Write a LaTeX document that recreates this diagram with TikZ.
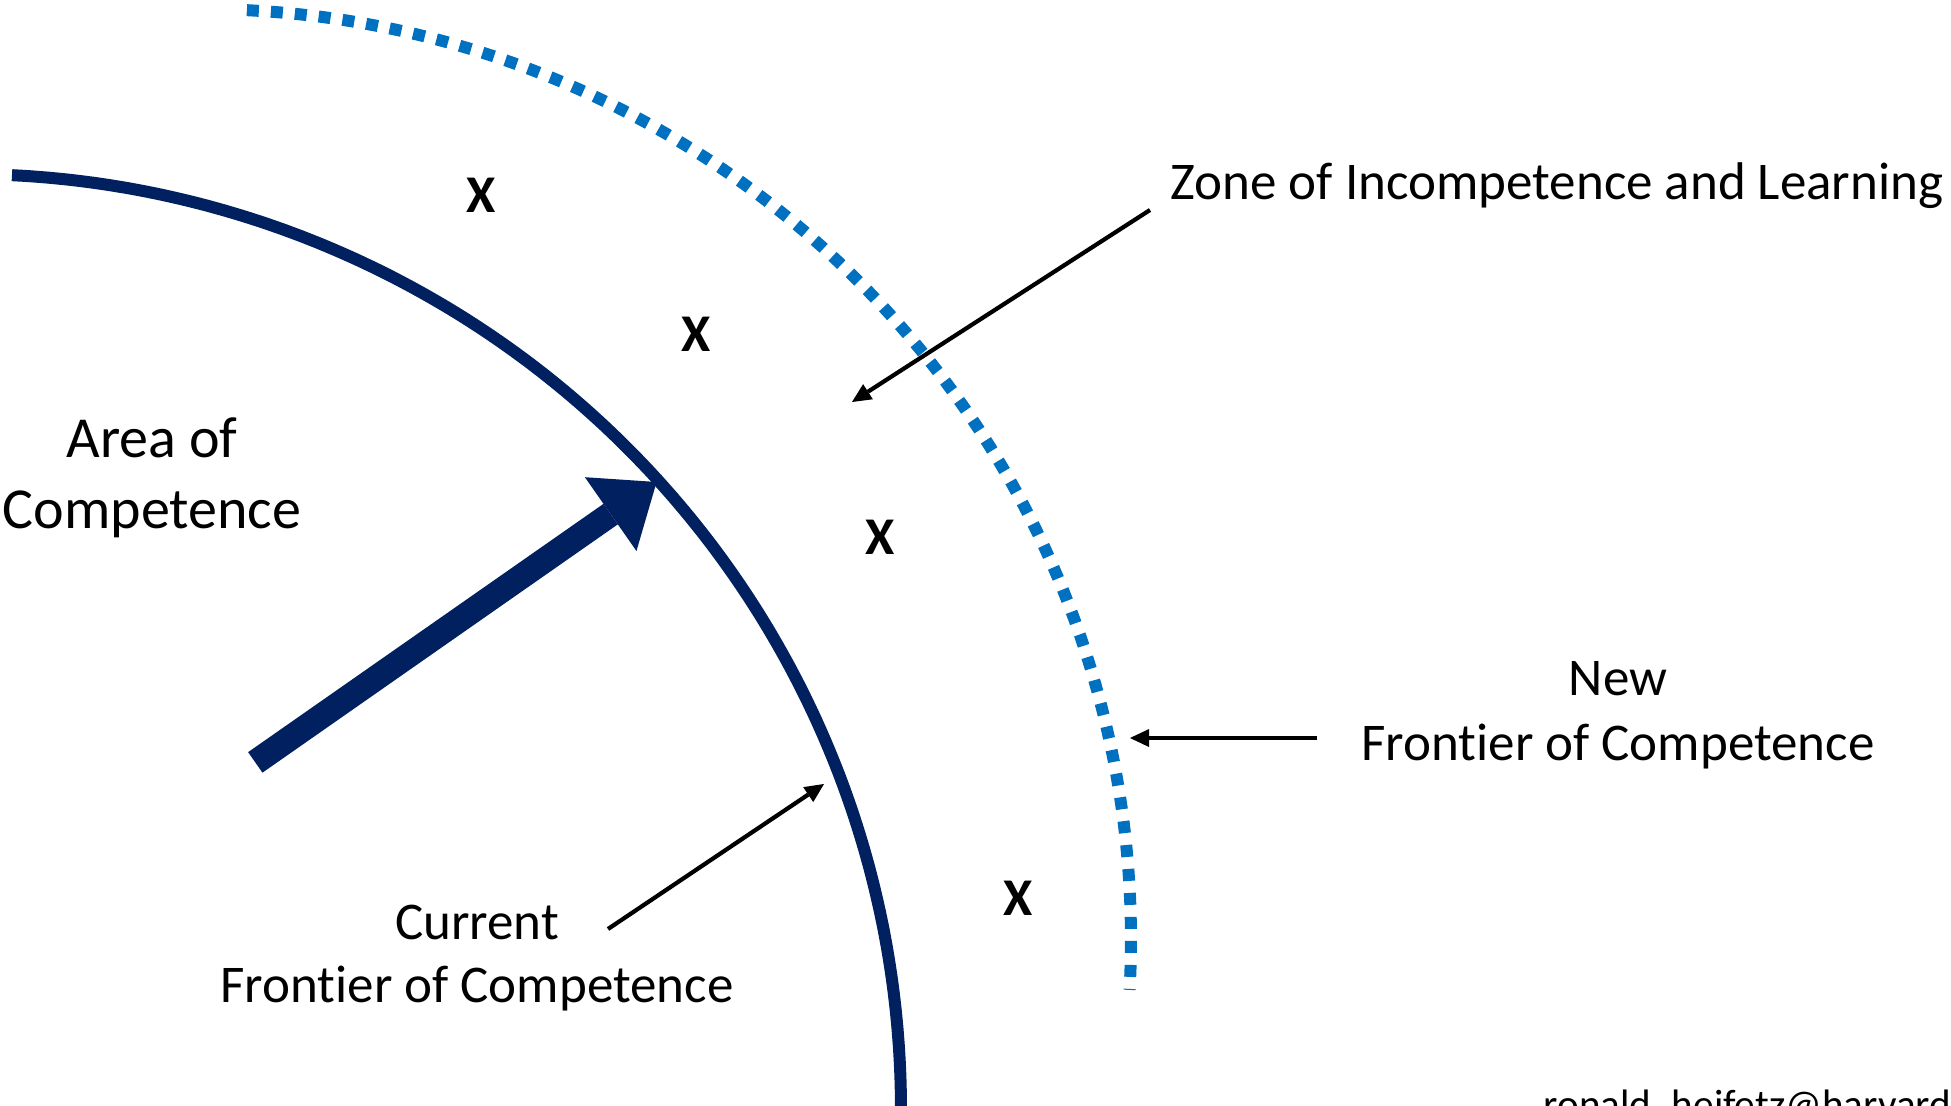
\documentclass[tikz,border=0pt]{standalone}
\usepackage{fontspec}
\setmainfont{Carlito}[Ligatures=NoCommon]
\usetikzlibrary{arrows.meta}
\definecolor{navy}{HTML}{002060}
\definecolor{brightblue}{HTML}{0070C0}
\begin{document}
\begin{tikzpicture}[x=0.01cm,y=-0.01cm,
  lab/.style={inner sep=0pt, font=\fontsize{15.08pt}{18.4pt}\selectfont},
  biglab/.style={inner sep=0pt, font=\fontsize{16.5pt}{20pt}\selectfont},
  xmark/.style={inner sep=0pt, font=\fontsize{15.08pt}{18.4pt}\selectfont\bfseries},
  maillab/.style={inner sep=0pt, font=\fontsize{11.7pt}{14pt}\selectfont},
  pointer/.style={draw=black, line width=0.042cm, -{Triangle[length=0.19cm,width=0.18cm,line width=0pt]}},
  frontier/.style={draw=navy, line width=0.12cm},
  newfrontier/.style={draw=brightblue, line width=0.12cm, dash pattern=on 0.12cm off 0.12cm},
  growth/.style={draw=navy, line width=0.25cm, -{Triangle[length=0.56cm,width=0.9cm,line width=0pt]}}
]
\useasboundingbox (0,0) rectangle (1951,1106);
\clip (0,0) rectangle (1951,1106);
\fill[white] (0,0) rectangle (1951,1106);

% current frontier (solid arc)
\draw[frontier] plot[domain=-87.18:0.5, samples=160, variable=\t] ({-34+935*cos(\t)},{1109+935*sin(\t)});
% new frontier (dotted arc)
\draw[newfrontier] plot[domain=-87.17:3.14, samples=160, variable=\t] ({201+930*cos(\t)},{939+930*sin(\t)});

% growth arrow
\coordinate (gtail) at (255.3,762.4);
\coordinate (gtip) at (656.6,482);
\draw[growth] (gtail) -- (gtip);

% labels
\node[lab, anchor=base west] (zone) at (1170,199) {Zone of Incompetence and Learning};
\node[biglab, anchor=base] (area1) at (152,457) {Area of};
\node[biglab, anchor=base] (area2) at (152,528) {Competence};
\node[lab, anchor=base] (new1) at (1618,695) {New};
\node[lab, anchor=base] (new2) at (1618,760) {Frontier of Competence};
\node[lab, anchor=base] (cur1) at (477,939) {Current};
\node[lab, anchor=base] (cur2) at (477,1002) {Frontier of Competence};
\node[maillab, anchor=base west] (mail) at (1543,1118) {ronald\_heifetz@harvard.edu};

% X marks
\node[xmark] (x1) at (481.5,195.4) {X};
\node[xmark] (x2) at (695.6,334.7) {X};
\node[xmark] (x3) at (879.7,537.5) {X};
\node[xmark] (x4) at (1017.8,898.4) {X};

% pointer arrows
\coordinate (ztail) at (1150,210);
\coordinate (ztip) at (852,402);
\coordinate (ntail) at (1317,738);
\coordinate (ntip) at (1130,738);
\coordinate (ctail) at (608,929);
\coordinate (ctip) at (824,784);
\draw[pointer] (ztail) -- (ztip);
\draw[pointer] (ntail) -- (ntip);
\draw[pointer] (ctail) -- (ctip);
\end{tikzpicture}
\end{document}
